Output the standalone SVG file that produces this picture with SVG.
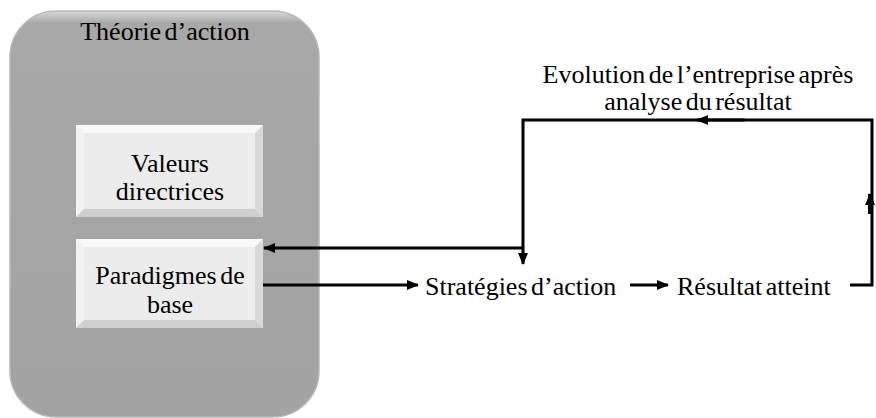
<svg xmlns="http://www.w3.org/2000/svg" width="876" height="418" viewBox="0 0 876 418">
<style>
text{font-family:'Liberation Serif','Times New Roman',serif;font-size:26px;fill:#000;word-spacing:-3px}
.ln{stroke:#000;stroke-width:3;fill:none}
.face{fill:#ececec}
.bt{fill:#f9f9f9}
.bl{fill:#f2f2f2}
.br{fill:#d9d9d9}
.bb{fill:#cfcfcf}
</style>
<defs>
<marker id="ah" markerWidth="12" markerHeight="10" refX="11" refY="5" orient="auto" markerUnits="userSpaceOnUse">
<path d="M0,0 L12,5 L0,10 Z" fill="#000"/>
</marker>
<linearGradient id="gbg" x1="0" y1="0" x2="0" y2="1">
<stop offset="0" stop-color="#d8d8d8"/>
<stop offset="0.03" stop-color="#a8a8a8"/>
<stop offset="1" stop-color="#a3a3a3"/>
</linearGradient>
</defs>
<g id="theorie">
<rect x="10" y="11" width="309" height="406" rx="46" fill="url(#gbg)" stroke="#b8b8b8" stroke-width="1.5"/>
<text x="165" y="40" text-anchor="middle">Théorie d’action</text>
</g>
<g id="valeurs">
<rect class="face" x="76" y="125" width="187" height="92"/>
<polygon class="bt" points="76,125 263,125 255,133 84,133"/>
<polygon class="bl" points="76,125 84,133 84,209 76,217"/>
<polygon class="br" points="263,125 263,217 255,209 255,133"/>
<polygon class="bb" points="76,217 84,209 255,209 263,217"/>
<rect class="face" x="84" y="133" width="171" height="76"/>
<text x="170" y="172" text-anchor="middle">Valeurs</text>
<text x="170" y="200" text-anchor="middle">directrices</text>
</g>
<g id="paradigmes">
<rect class="face" x="76" y="239" width="187" height="89"/>
<polygon class="bt" points="76,239 263,239 255,247 84,247"/>
<polygon class="bl" points="76,239 84,247 84,320 76,328"/>
<polygon class="br" points="263,239 263,328 255,320 255,247"/>
<polygon class="bb" points="76,328 84,320 255,320 263,328"/>
<rect class="face" x="84" y="247" width="171" height="73"/>
<text x="170" y="284" text-anchor="middle">Paradigmes de</text>
<text x="170" y="313" text-anchor="middle">base</text>
</g>
<g id="strategies">
<text x="425" y="295">Stratégies d’action</text>
</g>
<g id="resultat">
<text x="677" y="295">Résultat atteint</text>
</g>
<g id="evolution">
<text x="698" y="83" text-anchor="middle">Evolution de l’entreprise après</text>
<text x="698" y="110" text-anchor="middle">analyse du résultat</text>
</g>
<g id="connectors">
<line class="ln" x1="263" y1="285" x2="418" y2="285" marker-end="url(#ah)"/>
<line class="ln" x1="630" y1="285" x2="668" y2="285" marker-end="url(#ah)"/>
<polyline class="ln" points="850,285 872,285 872,120 523,120 523,264" marker-end="url(#ah)"/>
<line class="ln" x1="523" y1="248" x2="264" y2="248" marker-end="url(#ah)"/>
<line class="ln" x1="745" y1="120" x2="697" y2="120" marker-end="url(#ah)"/>
<line x1="870" y1="214" x2="870" y2="194" stroke="#000" stroke-width="4" marker-end="url(#ah)"/>
</g>
</svg>
